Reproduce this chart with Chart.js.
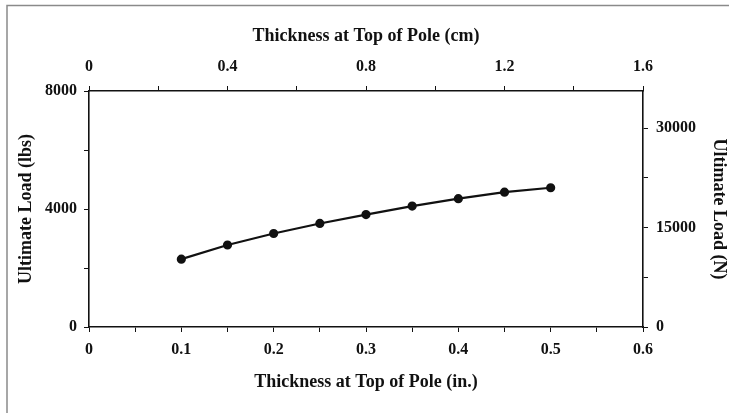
<!DOCTYPE html>
<html>
<head>
<meta charset="utf-8">
<script src="https://cdn.jsdelivr.net/npm/chart.js@4.4.1/dist/chart.umd.min.js"></script>
<style>
  html, body { margin: 0; padding: 0; background: #fff; }
  #wrap { width: 729px; height: 413px; position: relative; }
</style>
</head>
<body>
<div id="wrap"><canvas id="c" width="729" height="413"></canvas></div>
<script>
// ---- data ----
const thicknessIn = [0.10, 0.15, 0.20, 0.25, 0.30, 0.35, 0.40, 0.45, 0.50];
const loadLbs     = [2300, 2780, 3170, 3510, 3810, 4100, 4350, 4570, 4720];

// labelled tick values on each axis
const inchLabels = [0, 0.1, 0.2, 0.3, 0.4, 0.5, 0.6];
const cmLabels   = [0, 0.4, 0.8, 1.2, 1.6];
const lbsLabels  = [0, 4000, 8000];
const newtonLabels = [0, 15000, 30000];
// all tick marks on the Newton axis (labelled and unlabelled)
const newtonTicks = [0, 7500, 15000, 22500, 30000];

const LBS_TO_N = 4.44822;

function labelIf(list, v) {
  for (const t of list) {
    if (Math.abs(t - v) < 1e-6 * Math.max(1, Math.abs(t))) return String(t);
  }
  return '';
}

const tickFont = { family: 'Liberation Serif', size: 16, weight: 'bold' };
const titleFont = { family: 'Liberation Serif', size: 18, weight: 'bold' };
const ink = '#111';

const framePlugin = {
  id: 'frame',
  beforeDraw(chart) {
    const ctx = chart.ctx;
    ctx.save();
    ctx.strokeStyle = '#8a8a8a';
    ctx.lineWidth = 1.5;
    ctx.beginPath();
    ctx.moveTo(7, 413);
    ctx.lineTo(7, 5.5);
    ctx.lineTo(729, 5.5);
    ctx.stroke();
    ctx.restore();
  }
};

function grid() {
  return { drawOnChartArea: false, drawTicks: true, tickLength: 5, color: ink, lineWidth: 1 };
}
function border() {
  return { display: true, color: ink, width: 1.6 };
}

new Chart(document.getElementById('c'), {
  type: 'scatter',
  data: {
    datasets: [{
      data: thicknessIn.map((x, i) => ({ x: x, y: loadLbs[i] })),
      showLine: true,
      borderColor: ink,
      backgroundColor: ink,
      borderWidth: 2.2,
      pointRadius: 3.5,
      pointBackgroundColor: ink,
      pointBorderColor: ink,
      tension: 0,
      xAxisID: 'x',
      yAxisID: 'y'
    }]
  },
  options: {
    responsive: false,
    animation: false,
    devicePixelRatio: 1,
    layout: { padding: 0 },
    plugins: { legend: { display: false }, tooltip: { enabled: false }, title: { display: false } },
    scales: {
      x: {
        type: 'linear', position: 'bottom', min: 0, max: 0.6,
        grid: grid(), border: border(),
        ticks: {
          stepSize: 0.05, maxTicksLimit: 30, autoSkip: false, maxRotation: 0,
          padding: 8, color: ink, font: tickFont,
          callback: v => labelIf(inchLabels, v)
        },
        title: { display: true, text: 'Thickness at Top of Pole (in.)', color: ink, font: titleFont,
                 padding: { top: 0, bottom: 20 } },
        afterFit: s => { s.height = 86; }
      },
      x2: {
        type: 'linear', position: 'top', min: 0, max: 1.6, display: true,
        grid: grid(), border: border(),
        ticks: {
          stepSize: 0.2, maxTicksLimit: 30, autoSkip: false, maxRotation: 0,
          padding: 10, color: ink, font: tickFont,
          callback: v => labelIf(cmLabels, v)
        },
        title: { display: true, text: 'Thickness at Top of Pole (cm)', color: ink, font: titleFont,
                 padding: { top: 26, bottom: 0 } },
        afterFit: s => { s.height = 91; }
      },
      y: {
        type: 'linear', position: 'left', min: 0, max: 8000,
        grid: grid(), border: border(),
        ticks: {
          stepSize: 2000, autoSkip: false, padding: 7, color: ink, font: tickFont,
          callback: v => labelIf(lbsLabels, v)
        },
        title: { display: true, text: 'Ultimate Load (lbs)', color: ink, font: titleFont,
                 padding: { top: 16, bottom: 0 } },
        afterFit: s => { s.width = 89; }
      },
      y2: {
        type: 'linear', position: 'right', min: 0, max: 8000 * LBS_TO_N, display: true,
        grid: grid(), border: border(),
        afterBuildTicks: s => { s.ticks = newtonTicks.map(v => ({ value: v })); },
        ticks: {
          autoSkip: false, padding: 8, color: ink, font: tickFont,
          callback: v => labelIf(newtonLabels, v)
        },
        title: { display: true, text: 'Ultimate Load (N)', color: ink, font: titleFont,
                 padding: { top: 0, bottom: 0 } },
        afterFit: s => { s.width = 86; }
      }
    }
  },
  plugins: [framePlugin]
});
</script>
</body>
</html>
